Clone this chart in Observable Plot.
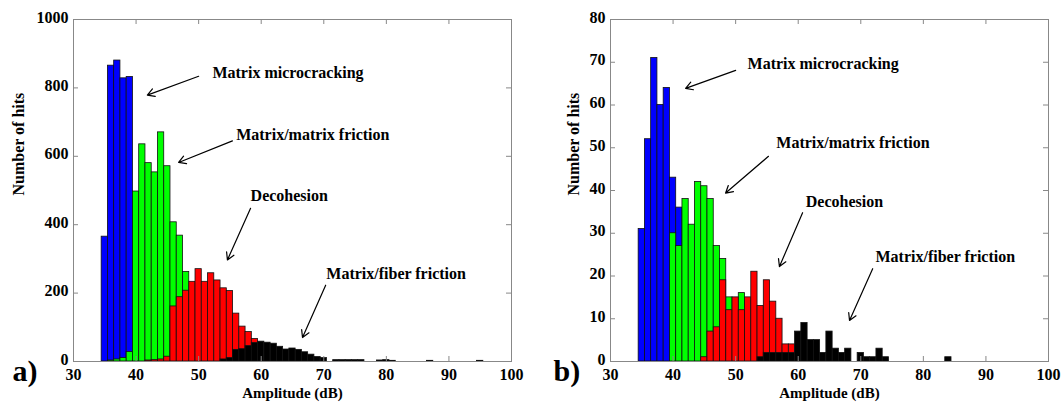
<!DOCTYPE html>
<html>
<head>
<meta charset="utf-8">
<script src="https://cdn.jsdelivr.net/npm/d3@7"></script>
<script src="https://cdn.jsdelivr.net/npm/@observablehq/plot@0.6"></script>
<style>
  html, body { margin: 0; padding: 0; background: #fff; }
  #wrap { display: flex; width: 1064px; height: 406px; }
</style>
</head>
<body>
<div id="wrap"></div>
<script>
// ---------- Data: panel a) ----------
const xTicks = [30, 40, 50, 60, 70, 80, 90, 100];
const yTicksA = [0, 200, 400, 600, 800, 1000];
const yTicksB = [0, 10, 20, 30, 40, 50, 60, 70, 80];

const blueA_dB = [35, 36, 37, 38, 39];
const blueA = [365, 865, 880, 828, 832];
const greenA_dB = [36, 37, 38, 39, 40, 41, 42, 43, 44, 45, 46, 47, 48];
const greenA = [3, 6, 10, 28, 497, 635, 580, 553, 670, 571, 407, 368, 262];
const redA_dB = [42, 43, 44, 45, 46, 47, 48, 49, 50, 51, 52, 53, 54, 55, 56, 57, 58, 59];
const redA = [3, 4, 6, 14, 161, 188, 207, 233, 270, 233, 258, 237, 214, 206, 140, 102, 86, 66];
const blackA_dB = [54, 55, 56, 57, 58, 59, 60, 61, 62, 63, 64, 65, 66, 67, 68, 69, 70, 72, 73, 74, 75, 76, 79, 80, 81, 87, 95];
const blackA = [6, 10, 34, 36, 45, 54, 58, 55, 52, 43, 35, 38, 34, 27, 20, 13, 10, 4, 4, 4, 4, 4, 3, 4, 2, 2, 2];

// ---------- Data: panel b) ----------
const blueB_dB = [35, 36, 37, 38, 39, 40, 41];
const blueB = [31, 52, 71, 60, 64, 43, 36];
const greenB_dB = [40, 41, 42, 43, 44, 45, 46, 47, 48, 49, 51];
const greenB = [30, 27, 38, 32, 42, 41, 38, 27, 24, 15, 16];
const redB_dB = [45, 46, 47, 48, 49, 50, 51, 52, 53, 54, 55, 56, 57, 58, 59];
const redB = [1, 7, 8, 19, 12, 15, 12, 15, 21, 13, 19, 14, 10, 4, 4];
const blackB_dB = [54, 55, 56, 57, 58, 59, 60, 61, 62, 63, 64, 65, 66, 67, 68, 70, 71, 72, 73, 74, 84];
const blackB = [1, 2, 2, 2, 2, 2, 7, 9, 5, 5, 2, 7, 3, 2, 3, 2, 1, 1, 3, 1, 1];

// ---------- Annotations (data coordinates) ----------
const noteText = ["Matrix microcracking", "Matrix/matrix friction", "Decohesion", "Matrix/fiber friction"];
const notesA_x = [52.2, 56.0, 58.3, 70.4];
const notesA_y = [843, 663, 485, 256];
const arrowsA = [[50.0, 834, 41.8, 779], [55.4, 645, 46.8, 582], [58.3, 448, 54.6, 297], [70.3, 223, 66.6, 70]];
const notesB_x = [51.9, 56.5, 61.2, 72.35];
const notesB_y = [69.7, 51.1, 37.3, 24.5];
const arrowsB = [[50.0, 68.1, 42.0, 63.9], [55.25, 48.0, 48.4, 39.4], [60.7, 34.8, 57.0, 22.2], [71.9, 21.7, 68.2, 9.6]];

const colors = ["#0000ff", "#00ff00", "#ff0000", "#000000"];

function rows(dbs, vals) { return dbs.map((d, i) => ({d, v: vals[i]})); }

const FONT = "Liberation Serif, Times New Roman, serif";

function panel({series, yMax, yTicks, marginLeft, marginRight, nx, ny, arrows, tag, tagDx, ylabDx}) {
  const mt = 19, mb = 45, H = 406, W = 532;
  const plotH = H - mt - mb;
  const plotW = W - marginLeft - marginRight;
  const notes = noteText.map((t, i) => ({t, x: nx[i], y: ny[i]}));
  const arr = arrows.map(a => ({x1: a[0], y1: a[1], x2: a[2], y2: a[3]}));
  return Plot.plot({
    width: W, height: H, marginLeft, marginRight, marginTop: mt, marginBottom: mb,
    x: {domain: [30, 100]},
    y: {domain: [0, yMax]},
    style: {fontFamily: FONT, fontWeight: "bold", fontSize: "16px", color: "#000", background: "#fff", overflow: "visible"},
    marks: [
      ...series.map((s, k) => Plot.rectY(rows(s[0], s[1]), {
        x1: d => d.d - 0.5, x2: d => d.d + 0.5, y1: 0, y2: "v",
        fill: colors[k], stroke: "#111", strokeWidth: 0.8
      })),
      Plot.frame({stroke: "#888", strokeWidth: 1}),
      Plot.tickX(xTicks, {x: d => d, insetTop: plotH - 5, stroke: "#888"}),
      Plot.tickX(xTicks, {x: d => d, insetBottom: plotH - 5, stroke: "#888"}),
      Plot.tickY(yTicks, {y: d => d, insetRight: plotW - 5, stroke: "#888"}),
      Plot.tickY(yTicks, {y: d => d, insetLeft: plotW - 5, stroke: "#888"}),
      Plot.axisX(xTicks, {tickSize: 0, tickPadding: 7, tickFormat: d => String(d), label: null, fontSize: 16, fontWeight: "bold"}),
      Plot.axisY(yTicks, {tickSize: 0, tickPadding: 5, tickFormat: d => String(d), label: null, fontSize: 16, fontWeight: "bold", dy: -2}),
      Plot.text(["Amplitude (dB)"], {frameAnchor: "bottom", dy: 36, fontSize: 15, fontWeight: "bold"}),
      Plot.text(["Number of hits"], {frameAnchor: "left", dx: ylabDx, dy: 5, rotate: -90, fontSize: 16, fontWeight: "bold"}),
      Plot.text([tag], {frameAnchor: "bottom-left", dx: tagDx, dy: 19, textAnchor: "start", fontSize: 30, fontWeight: "bold"}),
      Plot.arrow(arr, {x1: "x1", y1: "y1", x2: "x2", y2: "y2", stroke: "#000", strokeWidth: 1.2, headLength: 10}),
      Plot.text(notes, {x: "x", y: "y", text: "t", textAnchor: "start", fontSize: 16, fontWeight: "bold"})
    ]
  });
}

const wrap = document.getElementById("wrap");
wrap.append(panel({
  series: [[blueA_dB, blueA], [greenA_dB, greenA], [redA_dB, redA], [blackA_dB, blackA]],
  yMax: 1000, yTicks: yTicksA, marginLeft: 73, marginRight: 21,
  nx: notesA_x, ny: notesA_y, arrows: arrowsA, tag: "a)", tagDx: -61, ylabDx: -55
}));
wrap.append(panel({
  series: [[blueB_dB, blueB], [greenB_dB, greenB], [redB_dB, redB], [blackB_dB, blackB]],
  yMax: 80, yTicks: yTicksB, marginLeft: 78, marginRight: 16,
  nx: notesB_x, ny: notesB_y, arrows: arrowsB, tag: "b)", tagDx: -57, ylabDx: -37
}));
</script>
</body>
</html>
